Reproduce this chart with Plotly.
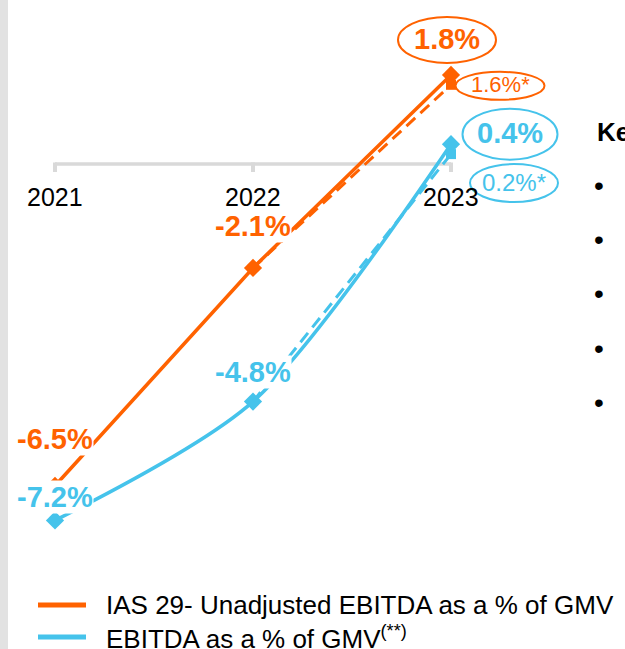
import plotly.graph_objects as go

# ---------------- data ----------------
years = [2021, 2022, 2023]
year_labels = ["2021", "2022", "2023"]
ias29_unadjusted = [-6.5, -2.1, 1.8]      # IAS 29- Unadjusted EBITDA as a % of GMV
ebitda_gmv = [-7.2, -4.8, 0.4]            # EBITDA as a % of GMV(**)
adj_years = [2022, 2023]
ias29_adjusted = [-2.1, 1.6]              # dashed (*) orange
ebitda_adjusted = [-4.8, 0.2]             # dashed (*) blue
bullet_count = 5

ORANGE = "#FF6200"
BLUE = "#45C3EB"
FONT = "Arial, Liberation Sans, sans-serif"
W, H = 625, 649

def py(px):  # pixel row -> paper fraction
    return 1 - px / H

def pxx(px):
    return px / W

fig = go.Figure()

# solid series
fig.add_trace(go.Scatter(
    x=years, y=ias29_unadjusted, mode="lines+markers",
    line=dict(color=ORANGE, width=3.5),
    marker=dict(symbol="diamond", size=14, color=ORANGE),
    showlegend=False, hoverinfo="skip"))
fig.add_trace(go.Scatter(
    x=years, y=ebitda_gmv, mode="lines+markers",
    line=dict(color=BLUE, width=3.5, shape="spline", smoothing=0.8),
    marker=dict(symbol="diamond", size=14, color=BLUE),
    showlegend=False, hoverinfo="skip"))
# dashed series
fig.add_trace(go.Scatter(
    x=adj_years, y=ias29_adjusted, mode="lines",
    line=dict(color=ORANGE, width=3, dash="12px,7px"),
    showlegend=False, hoverinfo="skip"))
fig.add_trace(go.Scatter(
    x=adj_years[-1:], y=ias29_adjusted[-1:], mode="markers",
    marker=dict(symbol="square", size=10, color=ORANGE),
    showlegend=False, hoverinfo="skip"))
fig.add_trace(go.Scatter(
    x=adj_years, y=ebitda_adjusted, mode="lines",
    line=dict(color=BLUE, width=3, dash="12px,7px"),
    showlegend=False, hoverinfo="skip"))
fig.add_trace(go.Scatter(
    x=adj_years[-1:], y=ebitda_adjusted[-1:], mode="markers",
    marker=dict(symbol="square", size=10, color=BLUE),
    showlegend=False, hoverinfo="skip"))

shapes = []
annotations = []

# left gray strip
shapes.append(dict(type="rect", xref="paper", yref="paper", x0=0, x1=pxx(8), y0=0, y1=1,
                   line=dict(width=0), fillcolor="#E2E2E2", layer="below"))

# category axis line drawn at zero
shapes.append(dict(type="line", xref="x", yref="y", x0=years[0], x1=years[-1], y0=0, y1=0,
                   line=dict(color="#D9D9D9", width=3.5), layer="below"))
for yr, lab in zip(years, year_labels):
    shapes.append(dict(type="line", xref="x", yref="y", ysizemode="pixel", yanchor=0,
                       x0=yr, x1=yr, y0=1.5, y1=-8,
                       line=dict(color="#D9D9D9", width=4), layer="below"))
    annotations.append(dict(x=yr, y=0, xref="x", yref="y", text=lab, showarrow=False,
                            yshift=-33, font=dict(family=FONT, size=25, color="#000000")))

# value labels for 2021 / 2022 (white boxes)
def vlabel(x, y, color, xs, ys):
    annotations.append(dict(x=x, y=y, xref="x", yref="y", text=f"<b>{y:.1f}%</b>",
                            showarrow=False, xshift=xs, yshift=ys, bgcolor="white", borderpad=0,
                            font=dict(family=FONT, size=29, color=color)))

vlabel(years[0], ias29_unadjusted[0], ORANGE, 0, 47)
vlabel(years[1], ias29_unadjusted[1], ORANGE, 0, 42)
vlabel(years[0], ebitda_gmv[0], BLUE, 0, 23)
vlabel(years[1], ebitda_gmv[1], BLUE, 0, 30)

# 2023 labels with ellipses
def ellipse_label(x, y, text, color, size, xs, ys, w, h, bold):
    shapes.append(dict(type="circle", xref="x", yref="y", xsizemode="pixel", ysizemode="pixel",
                       xanchor=x, yanchor=y, x0=xs - w / 2, x1=xs + w / 2,
                       y0=ys - h / 2, y1=ys + h / 2, line=dict(color=color, width=2),
                       fillcolor="rgba(0,0,0,0)"))
    t = f"<b>{text}</b>" if bold else text
    annotations.append(dict(x=x, y=y, xref="x", yref="y", text=t, showarrow=False,
                            xshift=xs, yshift=ys + 1,
                            font=dict(family=FONT, size=size, color=color)))

ellipse_label(years[2], ias29_unadjusted[2], f"{ias29_unadjusted[2]:.1f}%", ORANGE, 29, -4, 35, 98, 46, True)
ellipse_label(adj_years[1], ias29_adjusted[1], f"{ias29_adjusted[1]:.1f}%*", ORANGE, 22, 49, -1, 89, 28, False)
ellipse_label(years[2], ebitda_gmv[2], f"{ebitda_gmv[2]:.1f}%", BLUE, 29, 59, 10, 95, 51, True)
ellipse_label(adj_years[1], ebitda_adjusted[1], f"{ebitda_adjusted[1]:.1f}%*", BLUE, 24, 63, -29, 88, 38, False)

# right side panel (cut off by the frame edge)
annotations.append(dict(x=pxx(595), y=py(132), xref="paper", yref="paper", xanchor="left",
                        yanchor="middle", text="<b>Key highlights</b>", showarrow=False,
                        font=dict(family=FONT, size=26, color="#000000")))
bullet_rows = [186, 239, 293, 348, 402][:bullet_count]
for r in bullet_rows:
    annotations.append(dict(x=pxx(599), y=py(r), xref="paper", yref="paper", xanchor="center",
                            yanchor="middle", text="•", showarrow=False,
                            font=dict(family=FONT, size=28, color="#000000")))

# legend (manual)
legend_items = [("IAS 29- Unadjusted EBITDA as a % of GMV", ORANGE, 605),
                ("EBITDA as a % of GMV<sup>(**)</sup>", BLUE, 637)]
for text, color, row in legend_items:
    shapes.append(dict(type="line", xref="paper", yref="paper", x0=pxx(38), x1=pxx(86),
                       y0=py(row), y1=py(row), line=dict(color=color, width=5)))
    annotations.append(dict(x=pxx(104), y=py(row), xref="paper", yref="paper", xanchor="left",
                            yanchor="middle", text=text, showarrow=False,
                            font=dict(family=FONT, size=26, color="#000000")))

x_lo = years[0] - 55 / 198
x_hi = years[0] + (W - 55) / 198
y_hi = 164 / 49.5
y_lo = -(H - 164) / 49.5

fig.update_layout(
    width=W, height=H, margin=dict(l=0, r=0, t=0, b=0, pad=0),
    paper_bgcolor="white", plot_bgcolor="white",
    xaxis=dict(range=[x_lo, x_hi], visible=False, fixedrange=True),
    yaxis=dict(range=[y_lo, y_hi], visible=False, fixedrange=True),
    shapes=shapes, annotations=annotations, showlegend=False,
)

fig.write_html("out.html", config={"displayModeBar": False},
               post_script="document.body.style.margin='0';document.body.style.overflow='hidden';")
